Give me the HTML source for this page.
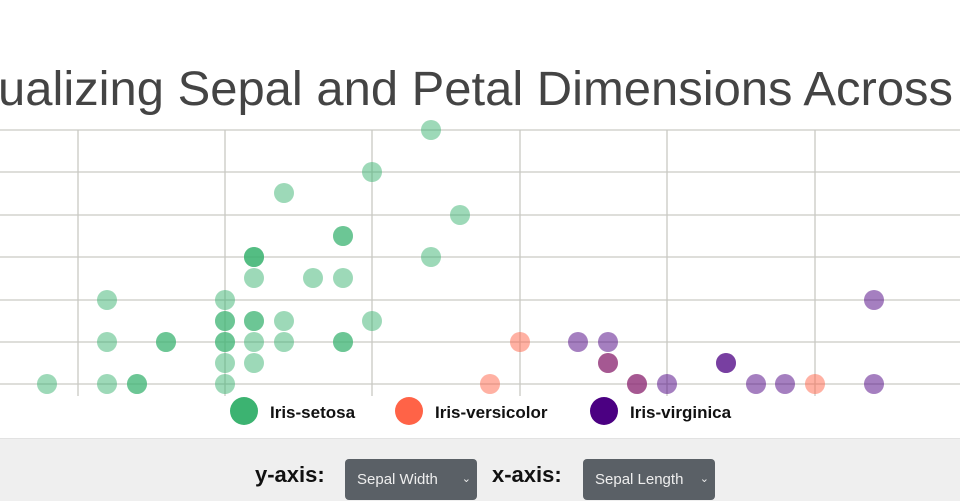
<!DOCTYPE html>
<html><head><style>
html,body{margin:0;padding:0;width:960px;height:500px;overflow:hidden;background:#fff;font-family:"Liberation Sans",sans-serif}
.bot{position:absolute;left:0;top:438px;width:960px;height:62px;background:#efefef;border-top:1px solid #e2e2e2}
.lab{position:absolute;top:462px;font-weight:bold;font-size:22px;color:#111}
.sel{position:absolute;top:459px;height:41px;background:#5a6066;border-radius:4px;color:#eee;font-size:15px;line-height:41px;padding-left:12px;box-sizing:border-box}
.sel span{position:absolute;right:6px;font-size:11px}
</style></head><body>
<svg width="960" height="440" style="position:absolute;left:0;top:0">
<text x="-2" y="105" font-size="48" fill="#444" textLength="955" lengthAdjust="spacingAndGlyphs" font-family="Liberation Sans, sans-serif">ualizing Sepal and Petal Dimensions Across</text>
<g stroke="#c9c9c4" stroke-width="1.3">
<line x1="0" x2="960" y1="130" y2="130"/><line x1="0" x2="960" y1="172" y2="172"/><line x1="0" x2="960" y1="215" y2="215"/><line x1="0" x2="960" y1="257" y2="257"/><line x1="0" x2="960" y1="300" y2="300"/><line x1="0" x2="960" y1="342" y2="342"/><line x1="0" x2="960" y1="384" y2="384"/>
<line x1="78" x2="78" y1="130" y2="396"/><line x1="225" x2="225" y1="130" y2="396"/><line x1="372" x2="372" y1="130" y2="396"/><line x1="520" x2="520" y1="130" y2="396"/><line x1="667" x2="667" y1="130" y2="396"/><line x1="815" x2="815" y1="130" y2="396"/>
</g>
<g fill="#3cb371" fill-opacity="0.5">
<circle cx="47" cy="384" r="10"/><circle cx="107" cy="384" r="10"/><circle cx="137" cy="384" r="10"/><circle cx="137" cy="384" r="10"/>
<circle cx="107" cy="342" r="10"/><circle cx="166" cy="342" r="10"/><circle cx="166" cy="342" r="10"/><circle cx="107" cy="300" r="10"/>
<circle cx="225" cy="384" r="10"/><circle cx="225" cy="363" r="10"/><circle cx="225" cy="342" r="10"/><circle cx="225" cy="342" r="10"/><circle cx="225" cy="321" r="10"/><circle cx="225" cy="321" r="10"/><circle cx="225" cy="300" r="10"/>
<circle cx="254" cy="363" r="10"/><circle cx="254" cy="342" r="10"/><circle cx="254" cy="321" r="10"/><circle cx="254" cy="321" r="10"/><circle cx="254" cy="278" r="10"/><circle cx="254" cy="257" r="10"/><circle cx="254" cy="257" r="10"/><circle cx="254" cy="257" r="10"/>
<circle cx="284" cy="342" r="10"/><circle cx="284" cy="321" r="10"/><circle cx="284" cy="193" r="10"/><circle cx="313" cy="278" r="10"/>
<circle cx="343" cy="342" r="10"/><circle cx="343" cy="342" r="10"/><circle cx="343" cy="278" r="10"/><circle cx="343" cy="236" r="10"/><circle cx="343" cy="236" r="10"/>
<circle cx="372" cy="321" r="10"/><circle cx="372" cy="172" r="10"/><circle cx="431" cy="130" r="10"/><circle cx="431" cy="257" r="10"/><circle cx="460" cy="215" r="10"/>
</g>
<g fill="#ff6347" fill-opacity="0.5">
<circle cx="490" cy="384" r="10"/><circle cx="520" cy="342" r="10"/><circle cx="815" cy="384" r="10"/><circle cx="608" cy="363" r="10"/><circle cx="637" cy="384" r="10"/>
</g>
<g fill="#4b0082" fill-opacity="0.5">
<circle cx="578" cy="342" r="10"/><circle cx="608" cy="342" r="10"/><circle cx="608" cy="363" r="10"/><circle cx="637" cy="384" r="10"/><circle cx="667" cy="384" r="10"/>
<circle cx="726" cy="363" r="10"/><circle cx="726" cy="363" r="10"/><circle cx="756" cy="384" r="10"/><circle cx="785" cy="384" r="10"/><circle cx="874" cy="300" r="10"/><circle cx="874" cy="384" r="10"/>
</g>
<rect x="0" y="396" width="960" height="44" fill="#fff"/>
<circle cx="244" cy="411" r="14" fill="#3cb371"/><circle cx="409" cy="411" r="14" fill="#ff6347"/><circle cx="604" cy="411" r="14" fill="#4b0082"/>
<g font-size="17" font-weight="bold" fill="#111" font-family="Liberation Sans, sans-serif">
<text x="270" y="418">Iris-setosa</text><text x="435" y="418">Iris-versicolor</text><text x="630" y="418">Iris-virginica</text>
</g>
</svg>
<div class="bot"></div>
<div class="lab" style="left:255px">y-axis:</div>
<div class="sel" style="left:345px;width:132px">Sepal Width<span>&#8964;</span></div>
<div class="lab" style="left:492px">x-axis:</div>
<div class="sel" style="left:583px;width:132px">Sepal Length<span>&#8964;</span></div>
</body></html>
